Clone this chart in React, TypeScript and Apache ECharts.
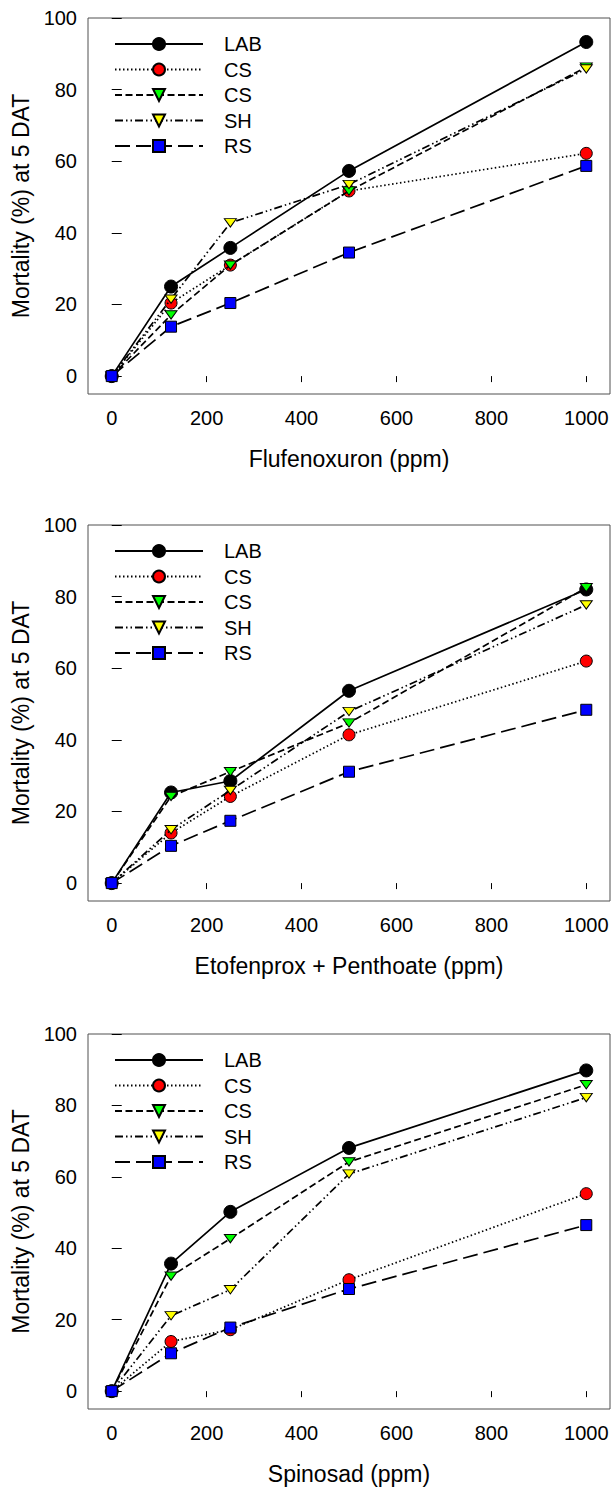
import React, { useEffect, useRef } from "react";
import * as echarts from "echarts";

const doses = [0, 125, 250, 500, 1000];
const xTicks = [0, 200, 400, 600, 800, 1000];
const yTicks = [0, 20, 40, 60, 80, 100];
const seriesLabels = ["LAB", "CS", "CS", "SH", "RS"];
const panelTitles = ["Flufenoxuron (ppm)", "Etofenprox + Penthoate (ppm)", "Spinosad (ppm)"];
const yTitle = "Mortality (%) at 5 DAT";

// Panel 1: Flufenoxuron
const fluLAB = [0, 25, 35.8, 57.3, 93.3];
const fluCSred = [0, 20.4, 31, 51.7, 62.2];
const fluCSgreen = [0, 17.1, 31, 51.7, 86.3];
const fluSH = [0, 21.5, 42.8, 53.5, 85.8];
const fluRS = [0, 13.8, 20.4, 34.5, 58.7];

// Panel 2: Etofenprox + Penthoate
const etoLAB = [0, 25.3, 28.5, 53.7, 82];
const etoCSred = [0, 14, 24.2, 41.4, 62];
const etoCSgreen = [0, 24.2, 31.1, 44.7, 82.5];
const etoSH = [0, 14.9, 25.9, 47.9, 77.7];
const etoRS = [0, 10.4, 17.4, 31.1, 48.4];

// Panel 3: Spinosad
const spiLAB = [0, 35.7, 50.2, 68.1, 89.8];
const spiCSred = [0, 13.9, 17.2, 31.2, 55.3];
const spiCSgreen = [0, 32.2, 42.7, 64.2, 85.8];
const spiSH = [0, 21.1, 28.4, 60.8, 82.2];
const spiRS = [0, 10.6, 17.8, 28.6, 46.5];

const panels = [
  [fluLAB, fluCSred, fluCSgreen, fluSH, fluRS],
  [etoLAB, etoCSred, etoCSgreen, etoSH, etoRS],
  [spiLAB, spiCSred, spiCSgreen, spiSH, spiRS],
];

const FONT = "'Liberation Sans', Arial, Helvetica, sans-serif";
const TRI_DOWN = "path://M0,0L12,0L6,10Z";

const styles = [
  { symbol: "circle", size: 13, fill: "#000000", dash: "solid" as any },
  { symbol: "circle", size: 12, fill: "#ff0000", dash: [1.5, 2.5] },
  { symbol: TRI_DOWN, size: [12, 10], fill: "#00ff00", dash: [7, 3.5] },
  { symbol: TRI_DOWN, size: [12, 10], fill: "#ffff00", dash: [8, 3, 1.5, 3, 1.5, 3] },
  { symbol: "rect", size: 11, fill: "#0000ff", dash: [15, 6] },
];

const gridTops = [18, 525, 1034];
const gridHeights = [376, 376, 375];

export default function App() {
  const ref = useRef<HTMLDivElement>(null);
  useEffect(() => {
    if (!ref.current) return;
    const chart = echarts.init(ref.current, undefined, { renderer: "svg" });
    const grids: any[] = [];
    const xAxes: any[] = [];
    const yAxes: any[] = [];
    const series: any[] = [];
    const legends: any[] = [];
    panels.forEach((panel, p) => {
      grids.push({
        left: 88,
        top: gridTops[p],
        width: 522,
        height: gridHeights[p],
        show: true,
        borderColor: "#505050",
        borderWidth: 1,
        backgroundColor: "transparent",
      });
      xAxes.push({
        type: "value",
        gridIndex: p,
        min: -50,
        max: 1050,
        name: panelTitles[p],
        nameLocation: "middle",
        nameGap: 53,
        nameTextStyle: { fontSize: 23, color: "#000", fontFamily: FONT },
        axisLine: { show: false },
        splitLine: { show: false },
        axisTick: { show: true, inside: false, length: 6, customValues: xTicks, lineStyle: { color: "#000", width: 1 } },
        axisLabel: {
          customValues: xTicks,
          fontSize: 20,
          color: "#000",
          fontFamily: FONT,
          margin: 14,
          formatter: (v: number) => String(v),
        },
      });
      yAxes.push({
        type: "value",
        gridIndex: p,
        min: -5,
        max: 100,
        name: yTitle,
        nameLocation: "middle",
        nameGap: 54,
        nameTextStyle: { fontSize: 23, color: "#000", fontFamily: FONT },
        axisLine: { show: false },
        splitLine: { show: false },
        axisTick: { show: true, inside: true, length: 10, customValues: yTicks, lineStyle: { color: "#000", width: 1 } },
        axisLabel: {
          customValues: yTicks,
          fontSize: 20,
          color: "#000",
          fontFamily: FONT,
          margin: 11,
          formatter: (v: number) => String(v),
        },
      });
      const names: string[] = [];
      panel.forEach((vals, i) => {
        const st = styles[i];
        const name = `${seriesLabels[i]}#${p}#${i}`;
        names.push(name);
        series.push({
          type: "line",
          name,
          xAxisIndex: p,
          yAxisIndex: p,
          data: doses.map((d, k) => [d, vals[k]]),
          symbol: st.symbol,
          symbolSize: st.size,
          symbolKeepAspect: true,
          showAllSymbol: true,
          lineStyle: { color: "#000", width: 1.7, type: st.dash },
          itemStyle: { color: st.fill, borderColor: "#000", borderWidth: 1 },
          emphasis: { disabled: true },
          z: 2 + i,
        });
      });
      legends.push({
        show: true,
        orient: "vertical",
        left: 114,
        top: gridTops[p] + 16,
        padding: 0,
        itemWidth: 88,
        itemHeight: 15,
        itemGap: 5.5,
        data: names,
        selectedMode: false,
        formatter: (n: string) => n.split("#")[0],
        textStyle: { fontSize: 20, color: "#000", fontFamily: FONT, padding: [0, 0, 0, 16] },
      });
    });
    chart.setOption({
      animation: false,
      backgroundColor: "#ffffff",
      grid: grids,
      xAxis: xAxes,
      yAxis: yAxes,
      legend: legends,
      series,
    });
    return () => chart.dispose();
  }, []);
  return (
    <div
      ref={ref}
      style={{ position: "absolute", left: 0, top: 0, width: 612, height: 1488 }}
    />
  );
}
